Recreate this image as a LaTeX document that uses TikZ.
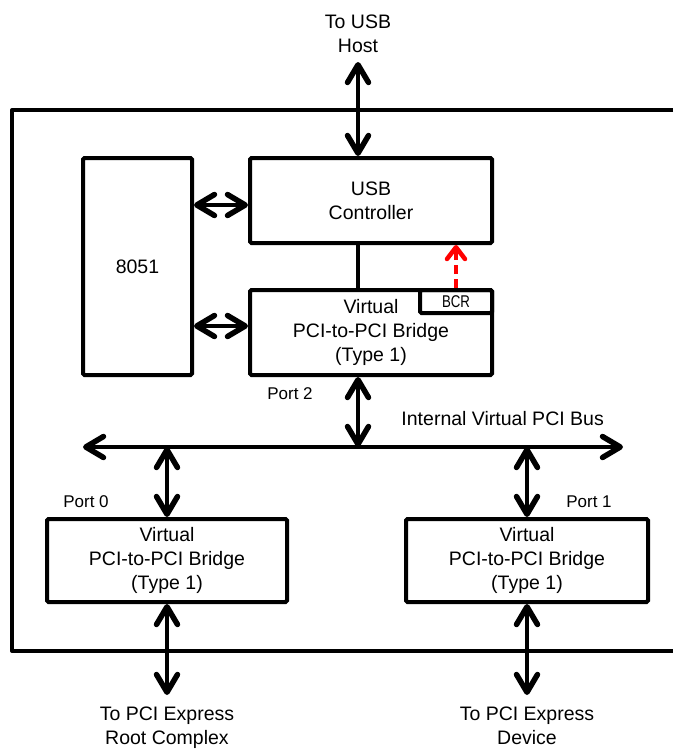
\documentclass[tikz,border=0pt]{standalone}
\usepackage{fontspec}
\setmainfont{Liberation Sans}
\usetikzlibrary{arrows.meta}
\pgfdeclarearrow{
  name=ChevBig,
  setup code={
    \pgfarrowssettipend{0pt}
    \pgfarrowssetlineend{-3pt}
    \pgfarrowssetvisualbackend{-21pt}
    \pgfarrowssetbackend{-23pt}
    \pgfarrowshullpoint{0pt}{0pt}
    \pgfarrowsupperhullpoint{-23pt}{13pt}
  },
  drawing code={
    \pgfsetlinewidth{5.5pt}\pgfsetroundcap\pgfsetroundjoin
    \pgfpathmoveto{\pgfpoint{-20.5pt}{10.5pt}}
    \pgfpathlineto{\pgfpoint{-2.75pt}{0pt}}
    \pgfpathlineto{\pgfpoint{-20.5pt}{-10.5pt}}
    \pgfusepathqstroke
  }
}
\pgfdeclarearrow{
  name=ChevRed,
  setup code={
    \pgfarrowssettipend{0pt}
    \pgfarrowssetlineend{-3pt}
    \pgfarrowssetvisualbackend{-14pt}
    \pgfarrowssetbackend{-16pt}
    \pgfarrowshullpoint{0pt}{0pt}
    \pgfarrowsupperhullpoint{-16pt}{11pt}
  },
  drawing code={
    \pgfsetlinewidth{4.5pt}\pgfsetroundcap\pgfsetroundjoin
    \pgfsetdash{}{0pt}
    \pgfpathmoveto{\pgfpoint{-14pt}{9pt}}
    \pgfpathlineto{\pgfpoint{-2.25pt}{0pt}}
    \pgfpathlineto{\pgfpoint{-14pt}{-9pt}}
    \pgfusepathqstroke
  }
}
\begin{document}
\begin{tikzpicture}[x=1pt,y=-1pt,
  box/.style={draw, line width=4pt, rounded corners=1.5pt, inner sep=0pt, align=center,
    font=\fontsize{19.5}{24}\selectfont},
  lbl/.style={inner sep=0pt, align=center, font=\fontsize{19.5}{24}\selectfont},
  plbl/.style={inner sep=0pt, font=\fontsize{17}{20}\selectfont},
  dbl/.style={line width=4.5pt, ChevBig-ChevBig},
  conn/.style={line width=4.5pt},
  frame/.style={line width=4pt, line join=round}
]
\useasboundingbox (0,0) rectangle (673,750);

% outer frame
\draw[frame] (673,110) -| (12,651) -- (673,651);

% boxes
\node[box, minimum width=109pt, minimum height=217pt] (c8051) at (137.5,266.5) {8051};
\node[box, minimum width=242pt, minimum height=85pt] (usb) at (371,200.5) {USB\\Controller};
\node[box, minimum width=242pt, minimum height=85pt] (br2) at (371,332.5) {Virtual\\PCI-to-PCI Bridge\\(Type 1)};
\node[draw, line width=4pt, rounded corners=1.5pt, inner sep=0pt, minimum width=72pt, minimum height=23pt,
  font=\fontsize{17}{20}\selectfont] (bcr) at (456,301.5) {\scalebox{0.78}[1]{BCR}};
\node[box, minimum width=240pt, minimum height=83pt] (br0) at (167,560.5) {Virtual\\PCI-to-PCI Bridge\\(Type 1)};
\node[box, minimum width=242pt, minimum height=83pt] (br1) at (527,560.5) {Virtual\\PCI-to-PCI Bridge\\(Type 1)};

% text labels
\node[lbl, text depth=4.5pt] (host) at (358,36) {To USB\\Host};
\node[lbl, text depth=4.5pt] (rc) at (167,728) {To PCI Express\\Root Complex};
\node[lbl, text depth=4.5pt] (dev) at (527,728) {To PCI Express\\Device};
\node[lbl, anchor=east] (buslbl) at (604,419) {Internal Virtual PCI Bus};
\node[plbl] (p2) at (290,394) {Port 2};
\node[plbl] (p0) at (86,502) {Port 0};
\node[plbl] (p1) at (589,502) {Port 1};

% coordinates
\coordinate (hostend) at (358,62);
\coordinate (busL) at (83,447);
\coordinate (busR) at (623,447);
\coordinate (j2) at (358,447);
\coordinate (j0) at (167,447);
\coordinate (j1) at (527,447);
\coordinate (rcend) at (167,695);
\coordinate (devend) at (527,695);

% connectors
\draw[dbl] (hostend) -- (usb.north -| hostend);
\draw[dbl] (c8051.east |- 0,205) -- (usb.west |- 0,205);
\draw[dbl] (c8051.east |- 0,326) -- (br2.west |- 0,326);
\draw[conn] (usb.south -| j2) -- (br2.north -| j2);
\draw[red, line width=4pt, dash pattern=on 9pt off 5pt, -ChevRed]
  (bcr.north) -- (usb.south -| bcr.north);
\draw[dbl] (br2.south -| j2) -- (j2);
\draw[dbl] (busL) -- (busR);
\draw[dbl] (j0) -- (br0.north);
\draw[dbl] (j1) -- (br1.north);
\draw[dbl] (br0.south) -- (rcend);
\draw[dbl] (br1.south) -- (devend);
\end{tikzpicture}
\end{document}
